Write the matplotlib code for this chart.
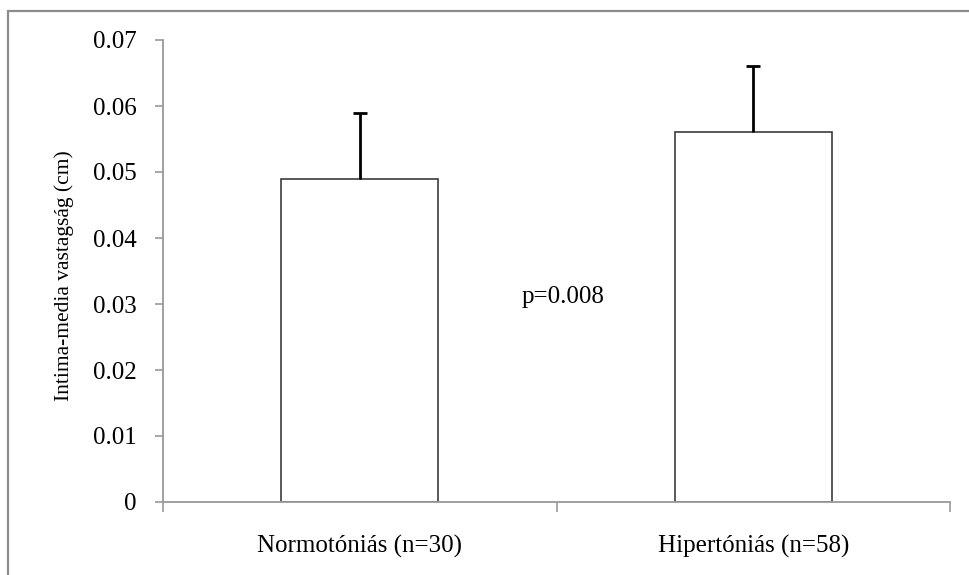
import matplotlib
matplotlib.use("Agg")
import matplotlib.pyplot as plt
from matplotlib.patches import Rectangle
import numpy as np

categories = ["Normotóniás (n=30)", "Hipertóniás (n=58)"]
means = [0.049, 0.056]
errors_up = [0.010, 0.010]
y_ticks = [0, 0.01, 0.02, 0.03, 0.04, 0.05, 0.06, 0.07]
y_tick_labels = ["0", "0.01", "0.02", "0.03", "0.04", "0.05", "0.06", "0.07"]
y_label = "Intima-media vastagság (cm)"
p_text = "p=0.008"
p_value_pos = 0.031

plt.rcParams['font.family'] = ['Liberation Serif', 'DejaVu Serif']
FS = 18

fig = plt.figure(figsize=(9.69, 5.75), dpi=100)
ax = fig.add_axes([163/969, 1-502/575, (950-163)/969, (502-40)/575])

x = np.arange(len(categories))
ax.bar(x, means, width=0.4, color="white", edgecolor="#3c3c3c", linewidth=1.2, zorder=2)
yerr = np.array([[0]*len(means), errors_up])
eb = ax.errorbar(x, means, yerr=yerr, fmt="none", ecolor="black", elinewidth=2.0,
                 capsize=4.7, capthick=2.0, zorder=3)
# hide the lower caps (error bars drawn only upward)
eb[1][0].set_visible(False)

ax.set_xlim(-0.5, len(categories)-0.5)
ax.set_ylim(0, 0.07)
ax.set_yticks(y_ticks)
ax.set_yticklabels(y_tick_labels, fontsize=FS)
ax.set_xticks(x)
ax.set_xticklabels(categories, fontsize=FS)
ax.tick_params(axis="x", which="major", length=0, pad=24)
ax.set_xticks(np.arange(-0.5, len(categories), 1.0), minor=True)
ax.tick_params(axis="x", which="minor", length=7.2, width=1.2, color="#999999", direction="out")
ax.tick_params(axis="y", length=5.8, width=1.2, color="#999999", direction="out", pad=13)

for s in ["top", "right"]:
    ax.spines[s].set_visible(False)
for s in ["left", "bottom"]:
    ax.spines[s].set_color("#999999")
    ax.spines[s].set_linewidth(1.3)

ax.set_ylabel(y_label, fontsize=15.5)
ax.yaxis.set_label_coords((74-163)/787, 0.49)

ax.text(0.517, p_value_pos, p_text, ha="center", va="center", fontsize=FS)

fig.patches.append(Rectangle((8/969, -0.1), 2.0, (575-11)/575 + 0.1,
                             transform=fig.transFigure, fill=False,
                             edgecolor="#8c8c8c", linewidth=1.6))

fig.savefig("out.png", dpi=100)
